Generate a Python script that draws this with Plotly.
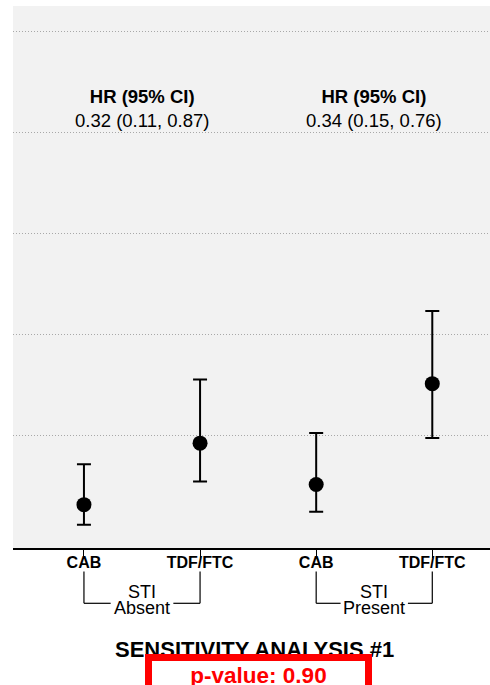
import plotly.graph_objects as go

# ---- data ----
categories = ["CAB", "TDF/FTC", "CAB", "TDF/FTC"]
strata = ["Absent", "Present"]
estimate = [0.31, 0.92, 0.51, 1.51]
lower = [0.11, 0.54, 0.24, 0.97]
upper = [0.71, 1.55, 1.02, 2.23]
hr_labels = ["0.32 (0.11, 0.87)", "0.34 (0.15, 0.76)"]
grid_values = [1, 2, 3, 4, 5]
title_text = "SENSITIVITY ANALYSIS #1"
p_value_text = "p-value: 0.90"

FONT = "Liberation Sans, Arial, Helvetica, sans-serif"
W, H = 490, 685
ML, MR, MT, MB = 13, 0, 6, 137
PLOT_H = H - MT - MB


def py_to_paper(py):
    # pixel row -> paper y coordinate
    return (H - MB - py) / PLOT_H


xpos = list(range(len(categories)))

fig = go.Figure(
    go.Scatter(
        x=xpos,
        y=estimate,
        mode="markers",
        marker=dict(size=15, color="black"),
        error_y=dict(
            type="data",
            symmetric=False,
            array=[u - e for u, e in zip(upper, estimate)],
            arrayminus=[e - l for e, l in zip(estimate, lower)],
            color="black",
            thickness=2,
            width=7,
        ),
        showlegend=False,
        hoverinfo="skip",
    )
)

annotations = []
shapes = []
for i, (stratum, hr) in enumerate(zip(strata, hr_labels)):
    xc = 2 * i + 0.5
    annotations.append(dict(
        x=xc, y=4.24, xref="x", yref="y",
        text="<b>HR (95% CI)</b><br>" + hr,
        showarrow=False, font=dict(size=18.5, color="black", family=FONT),
        align="center", yanchor="middle",
    ))
    annotations.append(dict(
        x=xc, y=py_to_paper(592), xref="x", yref="paper", yanchor="middle",
        text="STI", showarrow=False,
        font=dict(size=18, color="black", family=FONT),
    ))
    annotations.append(dict(
        x=xc, y=py_to_paper(607.7), xref="x", yref="paper", yanchor="middle",
        text=stratum, showarrow=False,
        font=dict(size=18, color="black", family=FONT),
    ))
    gap = 0.27 if i == 0 else 0.29
    y_top = py_to_paper(571.5)
    y_bot = py_to_paper(603.3)
    line = dict(color="black", width=1.2)
    shapes += [
        dict(type="line", xref="x", yref="paper", x0=2 * i, x1=2 * i, y0=y_top, y1=y_bot, line=line),
        dict(type="line", xref="x", yref="paper", x0=2 * i + 1, x1=2 * i + 1, y0=y_top, y1=y_bot, line=line),
        dict(type="line", xref="x", yref="paper", x0=2 * i, x1=xc - gap, y0=y_bot, y1=y_bot, line=line),
        dict(type="line", xref="x", yref="paper", x0=xc + gap, x1=2 * i + 1, y0=y_bot, y1=y_bot, line=line),
    ]

annotations.append(dict(
    x=1.47, y=py_to_paper(650), xref="x", yref="paper", yanchor="middle",
    text="<b>" + title_text + "</b>", showarrow=False,
    font=dict(size=22, color="black", family=FONT),
))
annotations.append(dict(
    x=1.5, y=py_to_paper(654.3), xref="x", yref="paper",
    xanchor="center", yanchor="top",
    text="<b>" + p_value_text + "</b>", showarrow=False,
    font=dict(size=22.5, color="#ff0000", family=FONT),
    width=209, height=50, valign="top", align="center",
    bgcolor="white", bordercolor="#ff0000", borderwidth=7, borderpad=2,
))

fig.update_layout(
    width=W, height=H,
    margin=dict(l=ML, r=MR, t=MT, b=MB, pad=0),
    paper_bgcolor="white",
    plot_bgcolor="#f2f2f2",
    font=dict(family=FONT, color="black"),
    annotations=annotations,
    shapes=shapes,
    showlegend=False,
)
fig.update_xaxes(
    range=[-0.611, 3.497],
    tickvals=xpos,
    ticktext=["<b>" + c + "</b>" for c in categories],
    tickfont=dict(size=16, color="black", family=FONT),
    ticklabelstandoff=-9,
    showgrid=False, zeroline=False,
    showline=True, linecolor="black", linewidth=2,
    ticks="outside", ticklen=8, tickwidth=1, tickcolor="black",
    fixedrange=True,
)
fig.update_yaxes(
    range=[-0.12, 5.255],
    tickvals=grid_values,
    showticklabels=False,
    showgrid=True, gridcolor="#a8a8a8", gridwidth=1, griddash="1px,2px",
    zeroline=False, showline=False, ticks="",
    fixedrange=True,
)

fig.write_html("out.html")
